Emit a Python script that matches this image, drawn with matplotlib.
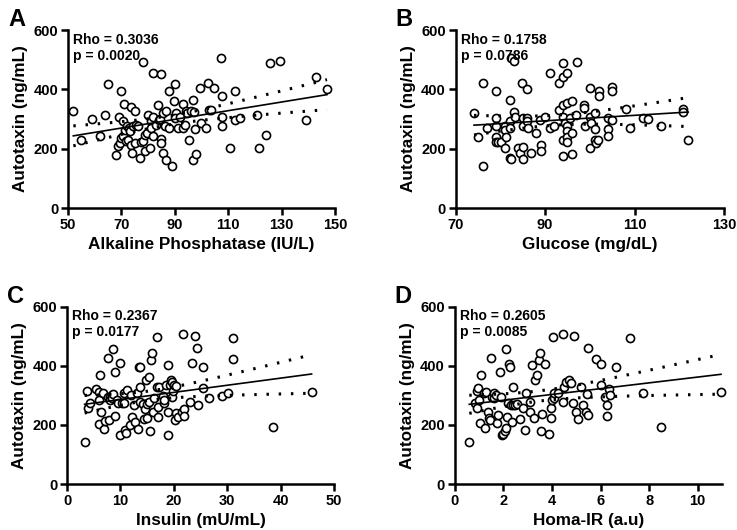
import numpy as np
import matplotlib
matplotlib.use("Agg")
import matplotlib.pyplot as plt

plt.rcParams['font.family'] = ['Liberation Sans', 'DejaVu Sans']
plt.rcParams['font.weight'] = 'bold'

# ---------------- data ----------------
alp_x = [52, 55, 59, 62, 64, 65, 68, 68.7, 69, 69.4, 70, 70, 70.6, 70.6, 71, 71.2, 71.8, 72.2, 72.5, 73,
         73.1, 73.7, 73.7, 74, 74.4, 75, 75, 75.6, 76.2, 77, 77.5, 78, 78.1, 78.7, 79, 79.5, 80, 80.6, 81, 81,
         82, 82, 82, 83, 83.7, 84, 84.6, 85, 85, 85, 85.7, 85.7, 86.3, 86.7, 86.8, 87.7, 87.8, 88.8, 89.7, 90,
         90.6, 90, 91.3, 92, 93, 93, 93.9, 94.3, 94.5, 95.5, 96, 96.8, 96.7, 97.2, 97.6, 97.9, 99.5, 99.9, 101.6, 102.6,
         102.9, 103.6, 104.5, 107.4, 107.6, 107.6, 107.6, 110.5, 112.4, 112.4, 114.5, 120.6, 121.4, 124.3, 125.6, 129.3,
         139, 143, 147]
alp_y = [328, 229, 299, 242, 314, 419, 177, 208, 306, 219, 395, 236, 294, 242, 352, 264, 225, 275, 230, 270,
         258, 340, 214, 184, 275, 326, 219, 280, 275, 169, 222, 493, 225, 247, 191, 252, 312, 202, 292, 269,
         456, 243, 308, 280, 346, 297, 301, 453, 232, 218, 319, 185, 275, 163, 326, 395, 269, 140, 360, 418,
         320, 303, 269, 308, 351, 269, 280, 328, 320, 230, 326, 365, 163, 324, 266, 183, 404, 288, 269, 423,
         331, 331, 404, 504, 376, 306, 275, 201, 393, 297, 305, 313, 201, 245, 488, 497,
         297, 443, 400]

glu_x = [74.1, 75, 76.1, 76.1, 77.1, 79.1, 79.1, 79.1, 79.1, 79, 79.5, 80.2, 81, 81.1, 81, 81.2, 82.1, 82.1, 82.1, 82.1,
         82.3, 82.4, 83, 83, 83.2, 83.9, 84.3, 84.8, 85, 85, 85, 85, 86, 86, 86, 86.2, 86.9, 88, 88.8, 89,
         89, 90, 91, 91, 92, 93, 93, 94, 94, 94, 94, 94, 94, 94.4, 95, 95, 95, 95, 95, 95, 95.5, 96.1,
         96.1, 96.1, 97.2, 97, 98.8, 98.8, 99, 100, 100, 100, 100.2, 101.1, 101.1, 101.1, 101.3, 101.8, 102, 102, 104, 104,
         104, 105, 105, 105, 108, 109, 111.9, 113, 116, 120.9, 120.9, 122]
glu_y = [320, 241, 421, 142, 269, 395, 303, 277, 241, 224, 224, 224, 277, 264, 202, 238, 364, 292, 269, 168,
         165, 505, 496, 325, 306, 202, 185, 423, 303, 277, 207, 165, 400, 303, 292, 269, 185, 252, 297, 213,
         191, 308, 456, 269, 275, 421, 331, 488, 443, 348, 308, 230, 176, 288, 454, 354, 275, 258, 241, 224, 303, 359,
         252, 183, 493, 314, 348, 336, 277, 404, 308, 202, 286, 320, 266, 230, 218, 230, 396, 376, 303, 267,
         243, 407, 393, 297, 333, 269, 303, 299, 275, 333, 325, 228]

ins_x = [3.3, 3.7, 4, 4.4, 5.5, 6, 6, 6.1, 6, 6.4, 6.7, 7, 7.2, 7.6, 7.7, 7.8, 8.1, 8.4, 8.1, 8.5,
         8.7, 8.7, 9, 9, 9.3, 9.5, 10, 10, 10.3, 10.6, 10.9, 11.1, 11.2, 10.7, 11.8, 12.1, 12, 12.5, 12.8, 13.2,
         13.3, 13.4, 13.6, 13.7, 13.7, 14.2, 14.5, 14.6, 14.8, 14.9, 15, 15.3, 15.4, 15.6, 15.7, 15.9, 16.1, 16.2, 16.8, 16.9,
         17, 17.1, 17.3, 17.9, 18.1, 18.2, 18.5, 18.9, 18.9, 19, 19.2, 19.4, 19.6, 19.6, 19.9, 20, 20.2, 20.4, 20.5, 20.7,
         21.5, 21.8, 22, 22, 23, 23.4, 24, 24.4, 24.6, 25.5, 25.5, 26.6, 29, 30.2, 31.1, 31.1, 38.5, 45.8]
ins_y = [143, 315, 258, 273, 321, 312, 284, 369, 203, 245, 307, 186, 214, 425, 293, 217, 295, 301, 284, 290,
         457, 303, 380, 231, 284, 275, 408, 166, 273, 307, 183, 171, 318, 273, 200, 228, 300, 267, 211, 307,
         186, 397, 397, 329, 276, 270, 220, 253, 352, 222, 270, 279, 363, 179, 420, 445, 245, 292, 329, 498,
         262, 228, 329, 298, 273, 284, 335, 166, 245, 403, 335, 352, 346, 295, 315, 335, 217, 241, 330, 228,
         245, 506, 254, 231, 279, 408, 501, 459, 267, 397, 324, 292, 298, 307, 493, 422, 194, 312]

homa_x = [0.6, 0.85, 0.9, 0.95, 0.9, 1.0, 1.05, 1.1, 1.2, 1.25, 1.3, 1.35, 1.4, 1.45, 1.5, 1.55, 1.6, 1.62, 1.7, 1.75,
          1.8, 1.85, 1.9, 1.95, 2.0, 2.05, 2.1, 2.12, 2.15, 2.2, 2.23, 2.26, 2.3, 2.36, 2.4, 2.4, 2.47, 2.58, 2.7, 2.8,
          2.88, 2.95, 3.08, 3.1, 3.2, 3.25, 3.3, 3.4, 3.45, 3.53, 3.56, 3.6, 3.7, 3.9, 3.95, 3.97, 4.0, 4.08, 4.04, 4.1,
          4.25, 4.45, 4.45, 4.5, 4.6, 4.7, 4.8, 4.86, 4.9, 5.0, 5.07, 5.2, 5.27, 5.4, 5.45, 5.5, 5.48, 5.82, 6.03, 6.03,
          6.2, 6.27, 6.27, 6.33, 6.4, 6.64, 7.23, 7.74, 8.47, 10.96]
homa_y = [143, 273, 315, 324, 256, 284, 205, 369, 309, 188, 312, 245, 222, 217, 425, 295, 307, 290, 301, 205,
          233, 380, 295, 166, 168, 180, 188, 457, 228, 273, 405, 397, 267, 211, 329, 267, 267, 270, 220, 256,
          183, 307, 279, 245, 403, 222, 352, 369, 420, 445, 179, 236, 405, 168, 256, 224, 284, 290, 498, 307,
          309, 506, 279, 329, 346, 352, 341, 273, 501, 245, 220, 329, 267, 245, 303, 233, 459, 422, 405, 335,
          295, 267, 231, 321, 301, 397, 493, 307, 194, 312]

panels = [
    dict(letter='A', x=alp_x, y=alp_y, xlabel='Alkaline Phosphatase (IU/L)', xlim=(50, 150),
         xticks=[50, 70, 90, 110, 130, 150], rho='Rho = 0.3036', p='p = 0.0020',
         pos=[68/737, 1-208/530, 267/737, 178/530]),
    dict(letter='B', x=glu_x, y=glu_y, xlabel='Glucose (mg/dL)', xlim=(70, 130),
         xticks=[70, 90, 110, 130], rho='Rho = 0.1758', p='p = 0.0786',
         pos=[455.7/737, 1-208/530, 268.3/737, 178/530]),
    dict(letter='C', x=ins_x, y=ins_y, xlabel='Insulin (mU/mL)', xlim=(0, 50),
         xticks=[0, 10, 20, 30, 40, 50], rho='Rho = 0.2367', p='p = 0.0177',
         pos=[67/737, 1-484/530, 267/737, 177.3/530]),
    dict(letter='D', x=homa_x, y=homa_y, xlabel='Homa-IR (a.u)', xlim=(0, 11),
         xticks=[0, 2, 4, 6, 8, 10], rho='Rho = 0.2605', p='p = 0.0085',
         pos=[454.7/737, 1-484/530, 267.3/737, 177.3/530]),
]

fig = plt.figure(figsize=(7.37, 5.30), dpi=100)

for pn in panels:
    ax = fig.add_axes(pn['pos'])
    x = np.asarray(pn['x'], float)
    y = np.asarray(pn['y'], float)
    ax.scatter(x, y, s=34, facecolors='white', edgecolors='black', linewidths=1.2,
               zorder=3, clip_on=False)
    # linear regression with 95% confidence band
    n = len(x)
    b, a = np.polyfit(x, y, 1)
    xs = np.linspace(x.min(), x.max(), 100)
    ys = a + b * xs
    resid = y - (a + b * x)
    s = np.sqrt(np.sum(resid**2) / (n - 2))
    sxx = np.sum((x - x.mean())**2)
    se = s * np.sqrt(1/n + (xs - x.mean())**2 / sxx)
    t = 1.984
    ax.plot(xs, ys, color='black', lw=1.2, zorder=4)
    ax.plot(xs, ys + t*se, color='black', lw=2.2, ls=(0, (0.8, 3.2)), zorder=4)
    ax.plot(xs, ys - t*se, color='black', lw=2.2, ls=(0, (0.8, 3.2)), zorder=4)

    ax.set_xlim(*pn['xlim'])
    ax.set_ylim(0, 600)
    ax.set_xticks(pn['xticks'])
    ax.set_yticks([0, 200, 400, 600])
    for sp in ['top', 'right']:
        ax.spines[sp].set_visible(False)
    for sp in ['left', 'bottom']:
        ax.spines[sp].set_linewidth(1.8)
    ax.tick_params(width=1.8, length=5, labelsize=10.5, pad=2)
    for lab in ax.get_xticklabels() + ax.get_yticklabels():
        lab.set_fontweight('bold')
    ax.set_xlabel(pn['xlabel'], fontsize=12.3, fontweight='bold', labelpad=4)
    ax.set_ylabel('Autotaxin (ng/mL)', fontsize=12.3, fontweight='bold', labelpad=4)
    ax.text(0.02, 0.985, pn['rho'], transform=ax.transAxes, fontsize=10, fontweight='bold',
            va='top', ha='left')
    ax.text(0.02, 0.895, pn['p'], transform=ax.transAxes, fontsize=10, fontweight='bold',
            va='top', ha='left')
    # panel letter
    fx = pn['pos'][0] - 60/737
    fy = pn['pos'][1] + pn['pos'][3] + 22/530
    fig.text(fx, fy, pn['letter'], fontsize=17, fontweight='bold', va='top', ha='left')

fig.savefig('out.png', dpi=100)
